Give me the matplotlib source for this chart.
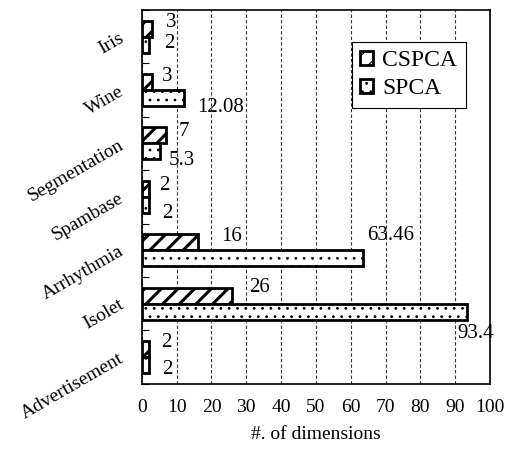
#!/usr/bin/env python3
"""Bar chart: number of dimensions for CSPCA vs SPCA on several datasets"""

import matplotlib
matplotlib.use('Agg')
import matplotlib.pyplot as plt
import numpy as np

plt.rcParams['font.family'] = ['Liberation Serif', 'DejaVu Serif']

# data
datasets = ['Iris', 'Wine', 'Segmentation', 'Spambase', 'Arrhythmia', 'Isolet', 'Advertisement']
cspca = [3, 3, 7, 2, 16, 26, 2]
spca = [2, 12.08, 5.3, 2, 63.46, 93.4, 2]
cspca_text = ['3', '3', '7', '2', '16', '26', '2']
spca_text = ['2', '12.08', '5.3', '2', '63.46', '93.4', '2']

# label placement (x left edge, y center) relative to bar, in data units
cspca_pos = [(7.0, -0.27), (5.8, -0.25), (10.7, -0.22), (5.0, -0.21),
             (22.8, -0.25), (30.8, -0.31), (5.5, -0.27)]
spca_pos = [(6.4, 0.12), (16.0, 0.32), (7.8, 0.31), (5.8, 0.32),
            (64.8, -0.27), (90.6, 0.55), (5.8, 0.24)]

fig = plt.figure(figsize=(5.12, 4.5), dpi=100)
ax = fig.add_axes([0.277, 0.147, 0.68, 0.831])

y = np.arange(len(datasets))
h = 0.3
plt.rcParams['hatch.linewidth'] = 2.2
b1 = ax.barh(y - h / 2, cspca, height=h, facecolor='white', edgecolor='black',
             linewidth=2, hatch='//', label='CSPCA', zorder=3)
plt.rcParams['hatch.linewidth'] = 0.8
b2 = ax.barh(y + h / 2, spca, height=h, facecolor='white', edgecolor='black',
             linewidth=2, hatch='..', label='SPCA', zorder=3)
for p in b1:
    if hasattr(p, 'set_hatch_linewidth'):
        p.set_hatch_linewidth(2.2)
for p in b2:
    if hasattr(p, 'set_hatch_linewidth'):
        p.set_hatch_linewidth(0.8)

for i in range(len(datasets)):
    ax.text(cspca_pos[i][0], y[i] + cspca_pos[i][1], cspca_text[i],
            ha='left', va='center', fontsize=15, zorder=4)
    ax.text(spca_pos[i][0], y[i] + spca_pos[i][1], spca_text[i],
            ha='left', va='center', fontsize=15, zorder=4)

ax.set_xlim(0, 100)
ax.set_ylim(len(datasets) - 0.5, -0.5)
ax.set_xticks(np.arange(0, 101, 10))
ax.tick_params(axis='x', length=0, pad=11, labelsize=14)
ax.set_yticks(y)
ax.set_yticklabels(datasets, rotation=30, ha='right', va='center',
                   rotation_mode='anchor', fontsize=14)
ax.tick_params(axis='y', length=0, pad=14)
ax.set_yticks(np.arange(-0.5, len(datasets), 1), minor=True)
ax.tick_params(axis='y', which='minor', direction='in', length=5, width=0.8)

ax.xaxis.grid(True, linestyle=(0, (3, 2)), color='#333333', linewidth=0.8, zorder=0)
for s in ax.spines.values():
    s.set_linewidth(1.2)

ax.set_xlabel('#. of dimensions', fontsize=14, labelpad=7)

leg = ax.legend(loc='upper left', bbox_to_anchor=(0.603, 0.914), borderaxespad=0,
                fontsize=17, handlelength=0.55, handleheight=0.55, handletextpad=0.4,
                fancybox=False, edgecolor='black', framealpha=1,
                borderpad=0.35, labelspacing=0.3)
leg.get_frame().set_linewidth(0.8)

fig.savefig('out.png', dpi=100)
plt.close(fig)
